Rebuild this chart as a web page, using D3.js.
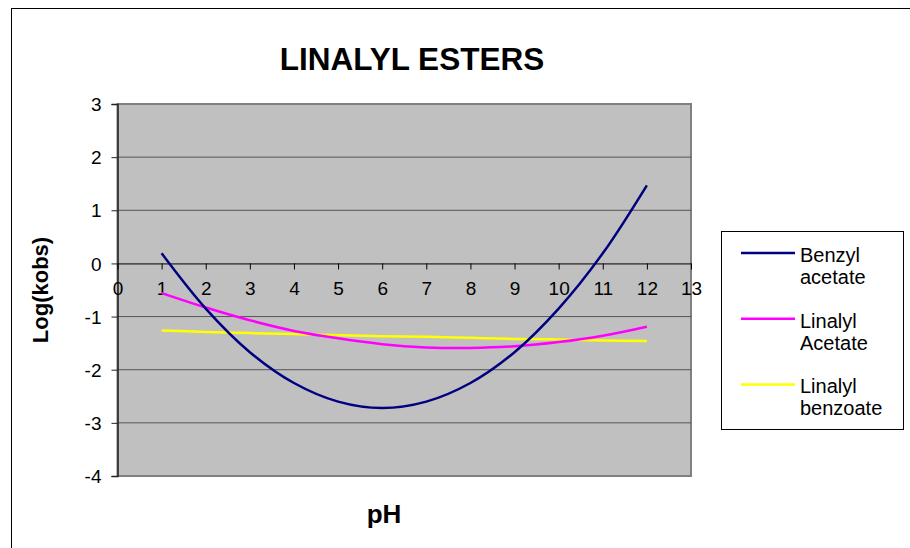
<!DOCTYPE html>
<html>
<head>
<meta charset="utf-8">
<script src="https://cdn.jsdelivr.net/npm/d3@7"></script>
<style>
  body { margin: 0; background: #fff; }
  svg { display: block; font-family: Arial, "Liberation Sans", sans-serif; }
</style>
</head>
<body>
<svg id="chart" width="910" height="548"></svg>
<script>
// chart data
var phValues = [1, 2, 3, 4, 5, 6, 7, 8, 9, 10, 11, 12];
var benzylAcetate = [0.19, -0.85, -1.67, -2.25, -2.60, -2.72, -2.60, -2.25, -1.67, -0.85, 0.19, 1.47];
var linalylAcetate = [-0.56, -0.83, -1.07, -1.27, -1.41, -1.52, -1.58, -1.59, -1.56, -1.48, -1.36, -1.19];
var linalylBenzoate = [-1.26, -1.29, -1.31, -1.33, -1.35, -1.37, -1.38, -1.40, -1.42, -1.43, -1.45, -1.46];
var seriesNames = [["Benzyl", "acetate"], ["Linalyl", "Acetate"], ["Linalyl", "benzoate"]];
var seriesColors = ["#000080", "#ff00ff", "#ffff00"];
var xTicks = [0, 1, 2, 3, 4, 5, 6, 7, 8, 9, 10, 11, 12, 13];
var yTicks = [-4, -3, -2, -1, 0, 1, 2, 3];

var svg = d3.select("#chart");

// outer chart border
svg.append("rect")
  .attr("x", 11.5).attr("y", 8.5)
  .attr("width", 910).attr("height", 560)
  .attr("fill", "none").attr("stroke", "#000").attr("stroke-width", 1);

var x = d3.scaleLinear().domain([0, 13]).range([117.5, 691]);
var y = d3.scaleLinear().domain([-4, 3]).range([476, 104]);

// plot area
svg.append("rect")
  .attr("x", x(0)).attr("y", y(3))
  .attr("width", x(13) - x(0)).attr("height", y(-4) - y(3))
  .attr("fill", "#c0c0c0")
  .attr("stroke", "#808080").attr("stroke-width", 2);

// gridlines
svg.append("g").selectAll("line")
  .data(yTicks.filter(d => d > -4 && d < 3 && d != 0))
  .join("line")
  .attr("x1", x(0)).attr("x2", x(13))
  .attr("y1", d => y(d)).attr("y2", d => y(d))
  .attr("stroke", "#555").attr("stroke-width", 1);

// y axis (plain hyphen for negatives, like the original)
var yAxis = d3.axisLeft(y).tickValues(yTicks).tickSize(6).tickPadding(10).tickFormat(d => String(d));
var yg = svg.append("g")
  .attr("transform", `translate(${x(0)},0)`)
  .call(yAxis);
yg.select(".domain").attr("stroke", "#222").attr("stroke-width", 1.5);
yg.selectAll(".tick line").attr("stroke", "#222");
yg.selectAll("text")
  .style("font-size", "19px").style("font-family", "Arial, 'Liberation Sans', sans-serif")
  .attr("fill", "#000").attr("dy", "0.35em");

// x axis crossing at zero
var xAxis = d3.axisBottom(x).tickValues(xTicks).tickSize(6).tickSizeOuter(0).tickPadding(12).tickFormat(d => String(d));
var xg = svg.append("g")
  .attr("transform", `translate(0,${y(0)})`)
  .call(xAxis);
xg.select(".domain").attr("stroke", "#000").attr("stroke-width", 1);
xg.selectAll(".tick line").attr("stroke", "#000");
xg.selectAll("text")
  .style("font-size", "19px").style("font-family", "Arial, 'Liberation Sans', sans-serif")
  .attr("fill", "#000");

// smoothed series lines
var line = d3.line()
  .x((d, i) => x(phValues[i]))
  .y(d => y(d))
  .curve(d3.curveCatmullRom);

var allSeries = [benzylAcetate, linalylAcetate, linalylBenzoate];
// draw yellow first so navy sits on top like the original
[2, 1, 0].forEach(function (k) {
  svg.append("path")
    .datum(allSeries[k])
    .attr("d", line)
    .attr("fill", "none")
    .attr("stroke", seriesColors[k])
    .attr("stroke-width", 2.5);
});

// title
svg.append("text")
  .attr("x", 412).attr("y", 70)
  .attr("text-anchor", "middle")
  .style("font-size", "31.5px").style("font-weight", "bold")
  .text("LINALYL ESTERS");

// axis titles
svg.append("text")
  .attr("x", 384).attr("y", 523)
  .attr("text-anchor", "middle")
  .style("font-size", "26px").style("font-weight", "bold")
  .text("pH");

svg.append("text")
  .attr("transform", "translate(48,290) rotate(-90)")
  .attr("text-anchor", "middle")
  .style("font-size", "22px").style("font-weight", "bold")
  .text("Log(kobs)");

// legend
var legend = svg.append("g");
legend.append("rect")
  .attr("x", 721.5).attr("y", 231.5)
  .attr("width", 182).attr("height", 198)
  .attr("fill", "#fff").attr("stroke", "#000").attr("stroke-width", 1);

seriesNames.forEach(function (name, i) {
  var ly = 253 + i * 65.7;
  legend.append("line")
    .attr("x1", 741).attr("x2", 795)
    .attr("y1", ly).attr("y2", ly)
    .attr("stroke", seriesColors[i]).attr("stroke-width", 2.5);
  var t = legend.append("text")
    .attr("x", 800).attr("y", ly + 9)
    .style("font-size", "20px");
  t.append("tspan").attr("x", 800).text(name[0]);
  t.append("tspan").attr("x", 800).attr("dy", 22).text(name[1]);
});
</script>
</body>
</html>
